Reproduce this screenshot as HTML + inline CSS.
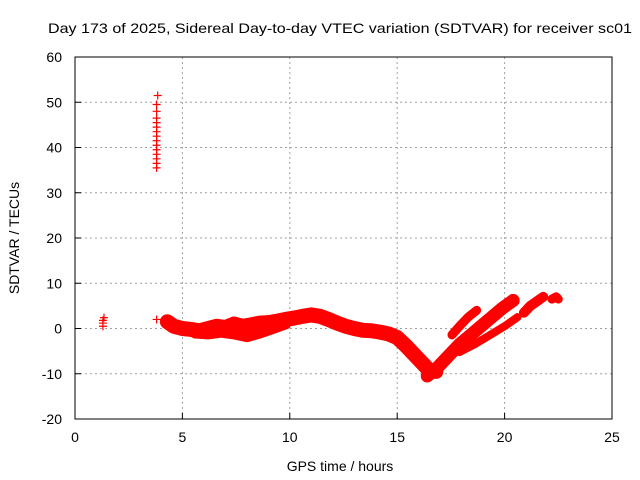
<!DOCTYPE html>
<html><head><meta charset="utf-8"><style>
body{margin:0;background:#fff}
svg{display:block;font-family:"Liberation Sans",sans-serif;font-size:14px}
</style></head><body>
<svg id="chart" width="640" height="480">
<text x="340" y="33" text-anchor="middle" textLength="584" lengthAdjust="spacingAndGlyphs">Day 173 of 2025, Sidereal Day-to-day VTEC variation (SDTVAR) for receiver sc01</text>
<g id="grid"></g>
<g id="ticks"></g>
<g id="marks"></g>
<rect x="75" y="57" width="537" height="362" fill="none" stroke="#000"/>
<text x="340" y="471" text-anchor="middle">GPS time / hours</text>
<text transform="translate(19,238) rotate(-90)" text-anchor="middle">SDTVAR / TECUs</text>
</svg>
<script>
const xTicks=[0,5,10,15,20,25];
const yTicks=[-20,-10,0,10,20,30,40,50,60];
const tA=[4.3,4.6,5.0,5.4,5.8,6.2,6.6,7.0,7.4,7.8,8.2,8.6,9.0,9.4,9.8,10.2,10.6,11.0,11.4,11.8,12.2,12.6,13.0,13.4,13.8,14.2,14.6,15.0,15.4,15.8,16.2,16.5,16.8];
const vA=[1.5,0.5,0,-0.2,-0.5,0,0.5,0.2,1,0.5,0.8,1.2,1.3,1.6,2,2.3,2.7,3,2.7,2,1.2,0.5,0,-0.4,-0.5,-0.8,-1.2,-2,-3.8,-5.8,-7.8,-9.3,-9.5];
const tB=[5.6,6.2,6.8,7.4,8.0,8.6,9.2,9.8];
const vB=[-1,-1.2,-0.8,-1.2,-1.8,-1,0,1];
const tC=[16.4,16.9,17.4,17.9,18.4,18.9,19.4,19.9,20.4];
const vC=[-10.5,-8.5,-6,-3.5,-1.5,0.5,2.5,4.5,6.2];
const tD=[17.55,17.9,18.3,18.7];
const vD=[-1.4,0.5,2.5,4];
const tE=[17.9,18.6,19.3,20.0,20.6];
const vE=[-5.2,-3.5,-1.5,0.5,2.5];
const tF=[20.9,21.2,21.5,21.8];
const vF=[3.5,5,6,7];
const tG=[22.2,22.4,22.5];
const vG=[6.5,7,6.5];
const tH=[1.3,1.3,1.3,1.35,3.8,3.8,3.8,3.8,3.8,3.8,3.8,3.8,3.8,3.8,3.8,3.8,3.8,3.8,3.85,3.8];
const vH=[0.5,1.2,1.8,2.4,35.5,36.5,37.5,38.5,39.5,40.5,41.5,42.5,43.5,44.5,45.5,46.5,48,49.5,51.5,2];
const X=h=>75+h*537/25, Y=v=>419-(v+20)*362/80;
const NS="http://www.w3.org/2000/svg";
const grid=document.getElementById('grid'),ticks=document.getElementById('ticks'),marks=document.getElementById('marks');
function mk(tag,attrs,parent){const e=document.createElementNS(NS,tag);for(const k in attrs)e.setAttribute(k,attrs[k]);parent.appendChild(e);return e;}
xTicks.forEach(t=>{
 if(t>0&&t<25){const l=mk('line',{x1:X(t),x2:X(t),y1:57,y2:419,stroke:'#a0a0a0','stroke-dasharray':'2,3'},grid);
 
 }
 const tx=mk('text',{x:X(t),y:442,'text-anchor':'middle'},ticks);tx.textContent=t;
 
 
 mk('line',{x1:X(t),x2:X(t),y1:419,y2:413,stroke:'#000'},ticks);
});
yTicks.forEach(v=>{
 if(v>-20&&v<60){const l=mk('line',{x1:75,x2:612,y1:Y(v),y2:Y(v),stroke:'#a0a0a0','stroke-dasharray':'2,3'},grid);
 
 }
 const tx=mk('text',{x:62,y:Y(v)+5,'text-anchor':'end'},ticks);tx.textContent=v;
 
 
 mk('line',{x1:75,x2:81,y1:Y(v),y2:Y(v),stroke:'#000'},ticks);
});
function band(ts,vs,w,name){
 const p=mk('polyline',{points:ts.map((t,i)=>X(t)+','+Y(vs[i])).join(' '),fill:'none',stroke:'#f00','stroke-width':w,'stroke-linejoin':'round','stroke-linecap':'round'},marks);
 
 
 pts(ts,vs,name+'-point');
}
function pts(ts,vs,name){
 ts.forEach((t,i)=>{const x=X(t),y=Y(vs[i]);
 const g=mk('path',{d:`M${x-4},${y}H${x+4}M${x},${y-4}V${y+4}`,stroke:'#f00','stroke-width':1.2},marks);
 
 });
}
band(tA,vA,15,'band-main');
band(tB,vB,11,'band-lower');
band(tC,vC,13,'band-rise-main');
band(tD,vD,9,'band-rise-upper');
band(tE,vE,8,'band-rise-lower');
band(tF,vF,10,'band-late');
band(tG,vG,9,'band-end');
pts(tH,vH,'isolated-point');
</script>
</body></html>
